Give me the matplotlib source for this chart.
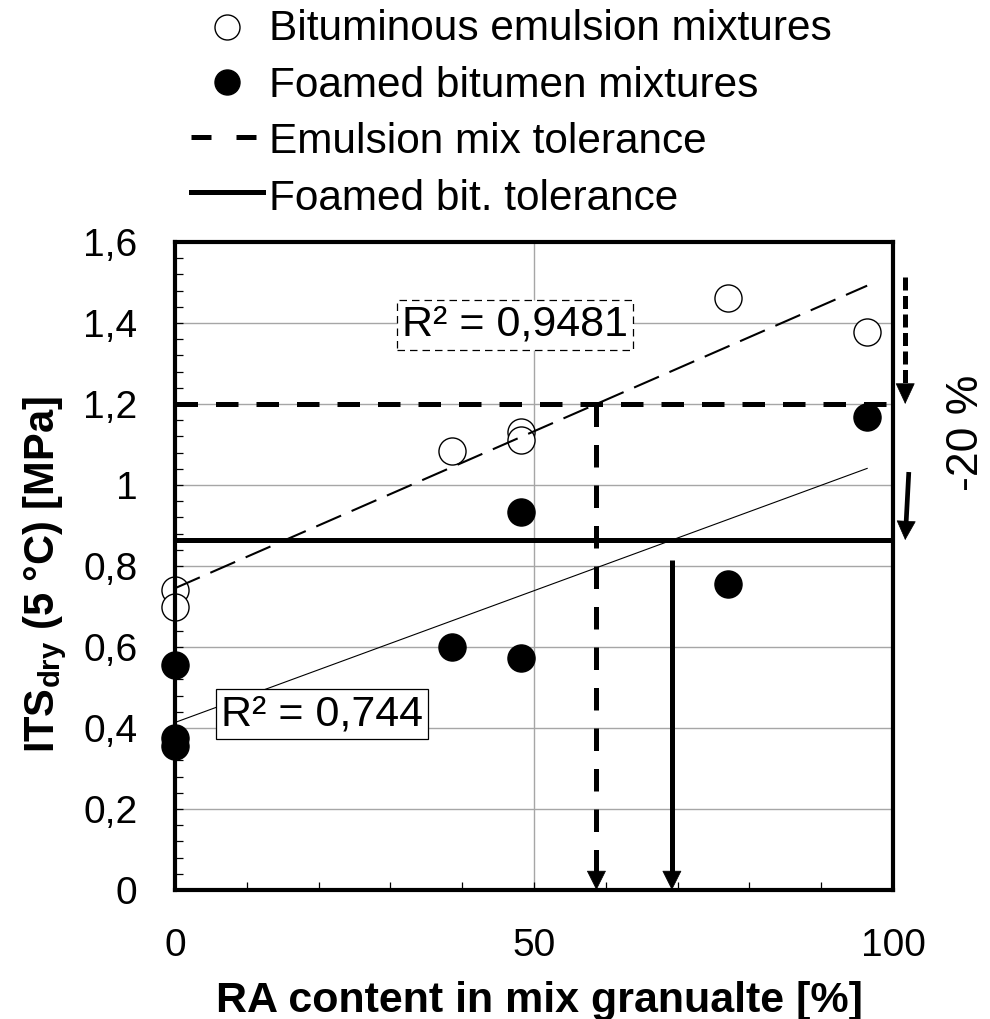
import numpy as np
import matplotlib
matplotlib.use('Agg')
import matplotlib.pyplot as plt
from matplotlib.lines import Line2D
from matplotlib.ticker import MultipleLocator, FixedLocator, FuncFormatter

# ---------------- data ----------------
ra_emulsion = [0, 0, 38.6, 48.2, 48.2, 77.0, 96.4]
its_emulsion = [0.74, 0.70, 1.084, 1.131, 1.111, 1.462, 1.378]
ra_foamed = [0, 0, 0, 38.6, 48.2, 48.2, 77.0, 96.4]
its_foamed = [0.556, 0.375, 0.355, 0.600, 0.573, 0.933, 0.756, 1.168]
tol_emulsion = 1.2
tol_foamed = 0.864
r2_emulsion = "R² = 0,9481"
r2_foamed = "R² = 0,744"
legend_labels = ["Bituminous emulsion mixtures", "Foamed bitumen mixtures",
                 "Emulsion mix tolerance", "Foamed bit. tolerance"]
x_ticks = [0, 50, 100]
y_ticks = [0, 0.2, 0.4, 0.6, 0.8, 1.0, 1.2, 1.4, 1.6]
drop_label = "-20 %"

plt.rcParams['font.family'] = ['Liberation Sans', 'DejaVu Sans']
plt.rcParams['mathtext.fontset'] = 'custom'
plt.rcParams['mathtext.rm'] = 'Liberation Sans'
plt.rcParams['mathtext.bf'] = 'Liberation Sans:bold'
plt.rcParams['mathtext.it'] = 'Liberation Sans:italic'

W, H = 990, 1019
fig = plt.figure(figsize=(W / 100, H / 100), dpi=100)
ax = fig.add_axes([175 / W, 1 - 890 / H, (893 - 175) / W, (890 - 242) / H])
ax.set_xlim(0, 100)
ax.set_ylim(0, 1.6)

# grid / ticks / spines
ax.xaxis.set_major_locator(FixedLocator(x_ticks))
ax.xaxis.set_minor_locator(MultipleLocator(10))
ax.yaxis.set_major_locator(FixedLocator(y_ticks))
ax.yaxis.set_minor_locator(MultipleLocator(0.04))
fmt = FuncFormatter(lambda v, p: ('%g' % round(v, 2)).replace('.', ','))
ax.xaxis.set_major_formatter(fmt)
ax.yaxis.set_major_formatter(fmt)
ax.grid(True, which='major', color='#a6a6a6', lw=1.0, zorder=0)
ax.set_axisbelow(True)
ax.tick_params(which='both', direction='in', length=5.5, width=0.9,
               top=False, right=False, color='k')
ax.tick_params(axis='both', which='major', labelsize=28, pad=27)
for s in ax.spines.values():
    s.set_linewidth(3.0)
    s.set_capstyle('projecting')
    s.set_zorder(6)

# trend lines (least squares through the points)
ce = np.polyfit(ra_emulsion, its_emulsion, 1)
cf = np.polyfit(ra_foamed, its_foamed, 1)
xe = np.array([0, max(ra_emulsion)])
xf = np.array([0, max(ra_foamed)])

# scatter
ax.plot(ra_emulsion, its_emulsion, 'o', ms=19.5, mfc='white', mec='k', mew=1.0,
        ls='none', zorder=3, clip_on=False)
ax.plot(ra_foamed, its_foamed, 'o', ms=19.5, mfc='k', mec='k', ls='none',
        zorder=3, clip_on=False)

ax.plot(xe, np.polyval(ce, xe), color='k', lw=1.5, dashes=(13, 5.5), zorder=4)
ax.plot(xf, np.polyval(cf, xf), color='k', lw=0.8, zorder=4)

# tolerance lines
ax.plot([0, 100], [tol_emulsion] * 2, color='k', lw=3.6, dashes=(4.5, 3.6), zorder=4)
ax.plot([0, 100], [tol_foamed] * 2, color='k', lw=3.6, zorder=4)

def arrow(x0, y0, x1, y1, dashed=False, lw=3.6, dashes=(4.5, 3.6), hl=13, hw=6.5):
    p0 = ax.transData.transform((x0, y0))
    p1 = ax.transData.transform((x1, y1))
    d = p1 - p0
    d = d / np.hypot(*d)
    hl_px = hl * fig.dpi / 72
    base = ax.transData.inverted().transform(p1 - d * hl_px * 0.9)
    kw = dict(color='k', lw=lw, clip_on=False, zorder=5, solid_capstyle='butt')
    if dashed:
        kw['dashes'] = dashes
    ax.plot([x0, base[0]], [y0, base[1]], **kw)
    ax.annotate('', xy=(x1, y1), xytext=(-d[0] * hl, -d[1] * hl),
                textcoords='offset points', annotation_clip=False,
                arrowprops=dict(arrowstyle='-|>,head_length=%g,head_width=%g' % (hl, hw),
                                mutation_scale=1, lw=0.5, color='k',
                                shrinkA=0, shrinkB=0), zorder=5)

# intersections of trend lines with tolerance levels
x_cross_e = (tol_emulsion - ce[1]) / ce[0]
x_cross_f = (tol_foamed - cf[1]) / cf[0]
arrow(x_cross_e, tol_emulsion, x_cross_e, 0, dashed=True)
arrow(x_cross_f, 0.815, x_cross_f, 0)

# right-hand -20 % arrows
arrow(101.7, 1.514, 101.7, tol_emulsion, dashed=True, lw=3.6, dashes=(2.6, 1.1), hl=14, hw=6.5)
arrow(102.2, 1.032, 101.7, tol_foamed, lw=3.4, hl=13, hw=6.5)
ax.text(1.103, 0.705, drop_label, transform=ax.transAxes, rotation=90,
        ha='center', va='center', fontsize=32)

# R² boxes
ax.text(0.4735, 0.872, r2_emulsion, transform=ax.transAxes, ha='center', va='center',
        fontsize=31, zorder=7,
        bbox=dict(boxstyle='square,pad=0.12', fc='white', ec='k', lw=0.9,
                  ls=(0, (6, 4))))
ax.text(0.2047, 0.2716, r2_foamed, transform=ax.transAxes, ha='center', va='center',
        fontsize=31, zorder=7,
        bbox=dict(boxstyle='square,pad=0.12', fc='white', ec='k', lw=0.9))

# axis labels
ax.set_xlabel('RA content in mix granualte [%]', fontsize=31, fontweight='bold')
ax.xaxis.label.set_va('baseline')
ax.xaxis.set_label_coords(0.508, (890 - 1012) / 648)
ax.set_ylabel(r'ITS$_{\mathbf{dry}}$ (5 °C) [MPa]', fontsize=30, fontweight='bold')
ax.yaxis.label.set_va('center')
ax.yaxis.set_label_coords((45 - 175) / 718, (890 - 575) / 648)

# legend drawn above the plot
def fx(px):
    return px / W

def fy(py):
    return 1 - py / H

baselines = [40, 97, 153, 210]
for lab, yb in zip(legend_labels, baselines):
    fig.text(fx(269), fy(yb), lab, fontsize=30.5, ha='left', va='baseline')
fig.add_artist(Line2D([fx(227)], [fy(27)], marker='o', ms=18, mfc='white',
                      mec='k', mew=1.0, ls='none', transform=fig.transFigure))
fig.add_artist(Line2D([fx(227)], [fy(82)], marker='o', ms=18, mfc='k',
                      mec='k', ls='none', transform=fig.transFigure))
fig.add_artist(Line2D([fx(191), fx(257)], [fy(137)] * 2, color='k', lw=3.6,
                      dashes=(4.0, 5.0), transform=fig.transFigure))
fig.add_artist(Line2D([fx(191), fx(263)], [fy(192)] * 2, color='k', lw=3.6,
                      transform=fig.transFigure))

fig.savefig('out.png', dpi=100)
